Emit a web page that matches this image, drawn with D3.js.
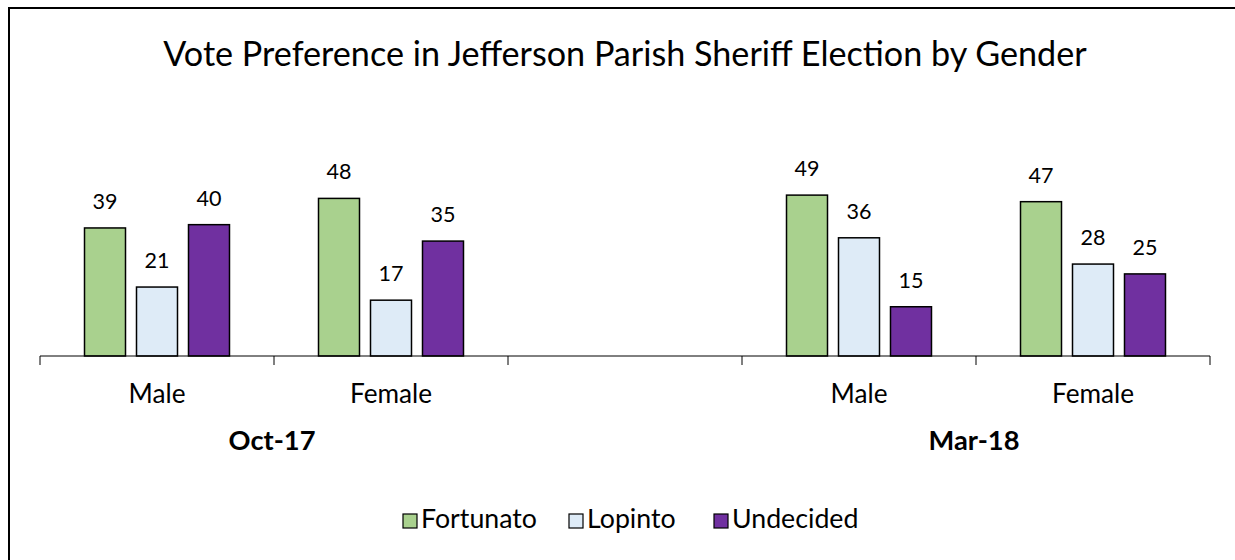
<!DOCTYPE html>
<html>
<head>
<meta charset="utf-8">
<script src="https://cdn.jsdelivr.net/npm/d3@7"></script>
<style>
  body { margin: 0; background: #fff; }
  text { font-family: Lato, "Open Sans", sans-serif; fill: #000; }
</style>
</head>
<body>
<div id="chart"></div>
<script>
// data
var categories = ["Oct-17|Male", "Oct-17|Female", "gap", "Mar-18|Male", "Mar-18|Female"];
var catLabels = ["Male", "Female", "", "Male", "Female"];
var periods = ["Oct-17", "Mar-18"];
var series = ["Fortunato", "Lopinto", "Undecided"];
var colors = ["#A9D18E", "#DEEBF7", "#7030A0"];
var fortunato = [39, 48, null, 49, 47];
var lopinto = [21, 17, null, 36, 28];
var undecided = [40, 35, null, 15, 25];

var width = 1235,
    height = 560;

var svg = d3.select("#chart").append("svg")
    .attr("width", width)
    .attr("height", height);

// outer frame (cut off at right / bottom like the original)
svg.append("rect")
    .attr("x", 9).attr("y", 8)
    .attr("width", 1300).attr("height", 700)
    .attr("fill", "none")
    .attr("stroke", "#000")
    .attr("stroke-width", 2);

// font size so that a sample string gets a given width
function sizeFor(str, target, weight) {
  var t = svg.append("text").attr("font-size", 20)
      .attr("font-weight", weight || "normal").text(str);
  var w = t.node().getComputedTextLength();
  t.remove();
  return 20 * target / w;
}
var titleSize = sizeFor("Vote Preference in Jefferson Parish Sheriff Election by Gender", 924);
var catSize = sizeFor("Male", 57);
var boldSize = sizeFor("Oct-17", 87, "bold");
var labelSize = sizeFor("39", 25);
var legendSize = sizeFor("Fortunato", 116);

svg.append("text")
    .attr("x", 625).attr("y", 66)
    .attr("text-anchor", "middle")
    .attr("font-size", titleSize)
    .text("Vote Preference in Jefferson Parish Sheriff Election by Gender");

var x = d3.scaleBand()
    .domain(categories)
    .range([40, 1210]);

var xs = d3.scaleBand()
    .domain(series)
    .range([0, x.bandwidth()])
    .paddingInner(11 / 52)
    .paddingOuter(0.856);

var y = d3.scaleLinear()
    .domain([0, 60])
    .range([356, 159]);

var rows = [];
categories.forEach(function(c, i) {
  [fortunato, lopinto, undecided].forEach(function(arr, j) {
    if (arr[i] != null) rows.push({cat: c, s: series[j], v: arr[i], color: colors[j]});
  });
});

svg.append("g").selectAll("rect")
    .data(rows)
    .enter().append("rect")
    .attr("x", d => x(d.cat) + xs(d.s))
    .attr("y", d => y(d.v))
    .attr("width", xs.bandwidth())
    .attr("height", d => y(0) - y(d.v))
    .attr("fill", d => d.color)
    .attr("stroke", "#000")
    .attr("stroke-width", 1.5);

svg.append("g").selectAll("text")
    .data(rows)
    .enter().append("text")
    .attr("x", d => x(d.cat) + xs(d.s) + xs.bandwidth() / 2)
    .attr("y", d => y(d.v) - 19)
    .attr("text-anchor", "middle")
    .attr("font-size", labelSize)
    .text(d => d.v);

// axis line and ticks at category boundaries
var axis = svg.append("g");
axis.append("line")
    .attr("x1", x.range()[0]).attr("x2", x.range()[1])
    .attr("y1", y(0)).attr("y2", y(0))
    .attr("stroke", "#000").attr("stroke-width", 1);
var bounds = categories.map(c => x(c)).concat([x.range()[1]]);
axis.selectAll(".tick")
    .data(bounds)
    .enter().append("line")
    .attr("x1", d => d).attr("x2", d => d)
    .attr("y1", y(0)).attr("y2", y(0) + 9)
    .attr("stroke", "#000").attr("stroke-width", 1);

axis.selectAll(".cat")
    .data(categories)
    .enter().append("text")
    .attr("x", d => x(d) + x.bandwidth() / 2)
    .attr("y", 403)
    .attr("text-anchor", "middle")
    .attr("font-size", catSize)
    .text((d, i) => catLabels[i]);

// period labels centred under their two categories
periods.forEach(function(p) {
  var cats = categories.filter(c => c.indexOf(p + "|") == 0);
  var x0 = x(cats[0]), x1 = x(cats[cats.length - 1]) + x.bandwidth();
  axis.append("text")
      .attr("x", (x0 + x1) / 2 - 2)
      .attr("y", 450)
      .attr("text-anchor", "middle")
      .attr("font-size", boldSize)
      .attr("font-weight", "bold")
      .text(p);
});

// legend
var legendX = [403, 569, 714];
var legend = svg.append("g").selectAll("g")
    .data(series)
    .enter().append("g")
    .attr("transform", (d, i) => "translate(" + legendX[i] + ",0)");
legend.append("rect")
    .attr("x", 0).attr("y", 514)
    .attr("width", 14).attr("height", 14)
    .attr("fill", (d, i) => colors[i])
    .attr("stroke", "#000").attr("stroke-width", 1.2);
legend.append("text")
    .attr("x", 18).attr("y", 528)
    .attr("font-size", legendSize)
    .text(d => d);
</script>
</body>
</html>
